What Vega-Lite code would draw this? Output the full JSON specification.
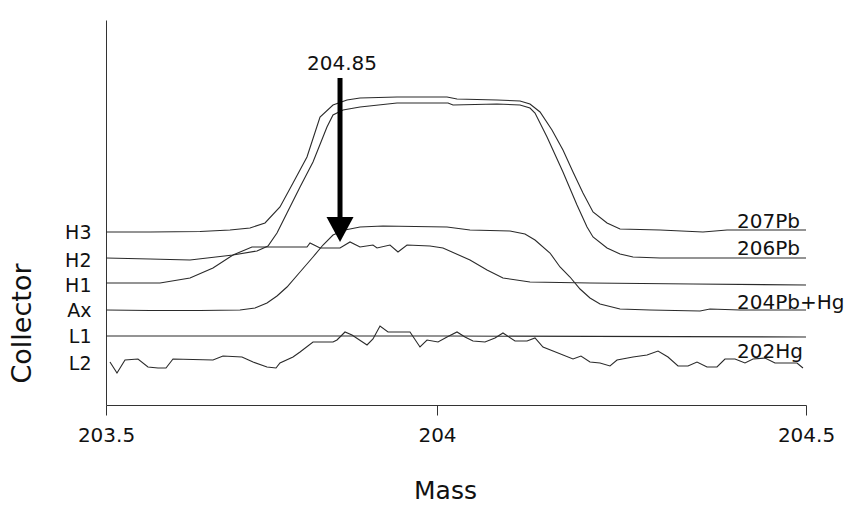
{
  "$schema": "https://vega.github.io/schema/vega-lite/v6.json",
  "autosize": {"type": "none"},
  "width": 700,
  "height": 385,
  "padding": {"left": 106, "top": 20, "right": 49, "bottom": 102},
  "background": "white",
  "config": {
    "view": {"stroke": null},
    "font": "DejaVu Sans",
    "axis": {"grid": false, "domainColor": "#333", "tickColor": "#333", "labelColor": "#111", "titleColor": "#111", "labelFont": "DejaVu Sans", "titleFont": "DejaVu Sans", "titleFontWeight": "normal"}
  },
  "datasets": {
    "traces": [
      {"series": "207Pb", "mass": 203.5, "signal": 173},
      {"series": "207Pb", "mass": 203.5665, "signal": 173},
      {"series": "207Pb", "mass": 203.642, "signal": 173.5},
      {"series": "207Pb", "mass": 203.6873, "signal": 175},
      {"series": "207Pb", "mass": 203.7175, "signal": 177},
      {"series": "207Pb", "mass": 203.7402, "signal": 182},
      {"series": "207Pb", "mass": 203.7628, "signal": 198},
      {"series": "207Pb", "mass": 203.7825, "signal": 222},
      {"series": "207Pb", "mass": 203.8036, "signal": 248},
      {"series": "207Pb", "mass": 203.8233, "signal": 288},
      {"series": "207Pb", "mass": 203.8429, "signal": 300},
      {"series": "207Pb", "mass": 203.864, "signal": 305},
      {"series": "207Pb", "mass": 203.8837, "signal": 307},
      {"series": "207Pb", "mass": 203.9396, "signal": 308},
      {"series": "207Pb", "mass": 204.0136, "signal": 308},
      {"series": "207Pb", "mass": 204.0271, "signal": 306},
      {"series": "207Pb", "mass": 204.0813, "signal": 305},
      {"series": "207Pb", "mass": 204.1125, "signal": 304},
      {"series": "207Pb", "mass": 204.126, "signal": 301},
      {"series": "207Pb", "mass": 204.1396, "signal": 293},
      {"series": "207Pb", "mass": 204.1558, "signal": 275},
      {"series": "207Pb", "mass": 204.1707, "signal": 255},
      {"series": "207Pb", "mass": 204.1843, "signal": 233},
      {"series": "207Pb", "mass": 204.1978, "signal": 212},
      {"series": "207Pb", "mass": 204.2114, "signal": 193},
      {"series": "207Pb", "mass": 204.2304, "signal": 182},
      {"series": "207Pb", "mass": 204.248, "signal": 176},
      {"series": "207Pb", "mass": 204.3022, "signal": 175},
      {"series": "207Pb", "mass": 204.3604, "signal": 173},
      {"series": "207Pb", "mass": 204.393, "signal": 175},
      {"series": "207Pb", "mass": 204.5, "signal": 175},

      {"series": "206Pb", "mass": 203.5, "signal": 147},
      {"series": "206Pb", "mass": 203.5665, "signal": 146},
      {"series": "206Pb", "mass": 203.6269, "signal": 145},
      {"series": "206Pb", "mass": 203.6918, "signal": 150},
      {"series": "206Pb", "mass": 203.7281, "signal": 154},
      {"series": "206Pb", "mass": 203.7447, "signal": 159},
      {"series": "206Pb", "mass": 203.7583, "signal": 172},
      {"series": "206Pb", "mass": 203.7734, "signal": 192},
      {"series": "206Pb", "mass": 203.7931, "signal": 218},
      {"series": "206Pb", "mass": 203.8127, "signal": 243},
      {"series": "206Pb", "mass": 203.8338, "signal": 278},
      {"series": "206Pb", "mass": 203.8429, "signal": 290},
      {"series": "206Pb", "mass": 203.858, "signal": 295},
      {"series": "206Pb", "mass": 203.8837, "signal": 298},
      {"series": "206Pb", "mass": 203.9396, "signal": 302},
      {"series": "206Pb", "mass": 204.0149, "signal": 302},
      {"series": "206Pb", "mass": 204.0217, "signal": 300},
      {"series": "206Pb", "mass": 204.0813, "signal": 301},
      {"series": "206Pb", "mass": 204.1125, "signal": 300},
      {"series": "206Pb", "mass": 204.126, "signal": 297},
      {"series": "206Pb", "mass": 204.1328, "signal": 292},
      {"series": "206Pb", "mass": 204.1491, "signal": 268},
      {"series": "206Pb", "mass": 204.1707, "signal": 233},
      {"series": "206Pb", "mass": 204.1897, "signal": 200},
      {"series": "206Pb", "mass": 204.2033, "signal": 178},
      {"series": "206Pb", "mass": 204.2114, "signal": 168},
      {"series": "206Pb", "mass": 204.2304, "signal": 157},
      {"series": "206Pb", "mass": 204.248, "signal": 151},
      {"series": "206Pb", "mass": 204.2656, "signal": 148},
      {"series": "206Pb", "mass": 204.3022, "signal": 147},
      {"series": "206Pb", "mass": 204.5, "signal": 147},

      {"series": "H1", "mass": 203.5, "signal": 122},
      {"series": "H1", "mass": 203.5816, "signal": 122},
      {"series": "H1", "mass": 203.6269, "signal": 127},
      {"series": "H1", "mass": 203.6616, "signal": 137},
      {"series": "H1", "mass": 203.6918, "signal": 150},
      {"series": "H1", "mass": 203.7205, "signal": 158},
      {"series": "H1", "mass": 203.8036, "signal": 158},
      {"series": "H1", "mass": 203.8082, "signal": 162},
      {"series": "H1", "mass": 203.8233, "signal": 157},
      {"series": "H1", "mass": 203.8535, "signal": 157},
      {"series": "H1", "mass": 203.8686, "signal": 163},
      {"series": "H1", "mass": 203.8837, "signal": 158},
      {"series": "H1", "mass": 203.9033, "signal": 160},
      {"series": "H1", "mass": 203.9094, "signal": 157},
      {"series": "H1", "mass": 203.929, "signal": 160},
      {"series": "H1", "mass": 203.9411, "signal": 153},
      {"series": "H1", "mass": 203.9547, "signal": 160},
      {"series": "H1", "mass": 203.9894, "signal": 159},
      {"series": "H1", "mass": 204.0081, "signal": 157},
      {"series": "H1", "mass": 204.0447, "signal": 145},
      {"series": "H1", "mass": 204.0678, "signal": 135},
      {"series": "H1", "mass": 204.0894, "signal": 127},
      {"series": "H1", "mass": 204.126, "signal": 123},
      {"series": "H1", "mass": 204.2073, "signal": 122},
      {"series": "H1", "mass": 204.3469, "signal": 121},
      {"series": "H1", "mass": 204.5, "signal": 120},

      {"series": "204Pb+Hg", "mass": 203.5, "signal": 95},
      {"series": "204Pb+Hg", "mass": 203.5665, "signal": 94.5},
      {"series": "204Pb+Hg", "mass": 203.642, "signal": 94.5},
      {"series": "204Pb+Hg", "mass": 203.7024, "signal": 95},
      {"series": "204Pb+Hg", "mass": 203.7251, "signal": 97},
      {"series": "204Pb+Hg", "mass": 203.7432, "signal": 102},
      {"series": "204Pb+Hg", "mass": 203.7583, "signal": 109},
      {"series": "204Pb+Hg", "mass": 203.7734, "signal": 118},
      {"series": "204Pb+Hg", "mass": 203.7931, "signal": 133},
      {"series": "204Pb+Hg", "mass": 203.8127, "signal": 148},
      {"series": "204Pb+Hg", "mass": 203.8278, "signal": 160},
      {"series": "204Pb+Hg", "mass": 203.8429, "signal": 170},
      {"series": "204Pb+Hg", "mass": 203.861, "signal": 175},
      {"series": "204Pb+Hg", "mass": 203.8837, "signal": 178},
      {"series": "204Pb+Hg", "mass": 203.9184, "signal": 179},
      {"series": "204Pb+Hg", "mass": 204.0136, "signal": 178},
      {"series": "204Pb+Hg", "mass": 204.0447, "signal": 175},
      {"series": "204Pb+Hg", "mass": 204.0989, "signal": 174},
      {"series": "204Pb+Hg", "mass": 204.1192, "signal": 171},
      {"series": "204Pb+Hg", "mass": 204.1328, "signal": 165},
      {"series": "204Pb+Hg", "mass": 204.1531, "signal": 152},
      {"series": "204Pb+Hg", "mass": 204.1667, "signal": 138},
      {"series": "204Pb+Hg", "mass": 204.1802, "signal": 128},
      {"series": "204Pb+Hg", "mass": 204.1938, "signal": 116},
      {"series": "204Pb+Hg", "mass": 204.2073, "signal": 107},
      {"series": "204Pb+Hg", "mass": 204.2209, "signal": 101},
      {"series": "204Pb+Hg", "mass": 204.248, "signal": 96},
      {"series": "204Pb+Hg", "mass": 204.2886, "signal": 95},
      {"series": "204Pb+Hg", "mass": 204.3564, "signal": 94},
      {"series": "204Pb+Hg", "mass": 204.3699, "signal": 96},
      {"series": "204Pb+Hg", "mass": 204.4106, "signal": 95},
      {"series": "204Pb+Hg", "mass": 204.5, "signal": 95},

      {"series": "L1", "mass": 203.5, "signal": 69},
      {"series": "L1", "mass": 204.0136, "signal": 69},
      {"series": "L1", "mass": 204.5, "signal": 68},

      {"series": "202Hg", "mass": 203.506, "signal": 43},
      {"series": "202Hg", "mass": 203.5166, "signal": 32},
      {"series": "202Hg", "mass": 203.5287, "signal": 45},
      {"series": "202Hg", "mass": 203.5483, "signal": 46},
      {"series": "202Hg", "mass": 203.5634, "signal": 38},
      {"series": "202Hg", "mass": 203.5785, "signal": 37},
      {"series": "202Hg", "mass": 203.5906, "signal": 37},
      {"series": "202Hg", "mass": 203.6012, "signal": 46},
      {"series": "202Hg", "mass": 203.6616, "signal": 45},
      {"series": "202Hg", "mass": 203.6767, "signal": 49},
      {"series": "202Hg", "mass": 203.7054, "signal": 48},
      {"series": "202Hg", "mass": 203.7221, "signal": 43},
      {"series": "202Hg", "mass": 203.7432, "signal": 38},
      {"series": "202Hg", "mass": 203.7568, "signal": 37},
      {"series": "202Hg", "mass": 203.7628, "signal": 42},
      {"series": "202Hg", "mass": 203.7825, "signal": 48},
      {"series": "202Hg", "mass": 203.7931, "signal": 53},
      {"series": "202Hg", "mass": 203.8127, "signal": 63},
      {"series": "202Hg", "mass": 203.8429, "signal": 63},
      {"series": "202Hg", "mass": 203.8489, "signal": 65},
      {"series": "202Hg", "mass": 203.861, "signal": 73},
      {"series": "202Hg", "mass": 203.8716, "signal": 70},
      {"series": "202Hg", "mass": 203.8943, "signal": 60},
      {"series": "202Hg", "mass": 203.9033, "signal": 66},
      {"series": "202Hg", "mass": 203.9139, "signal": 79},
      {"series": "202Hg", "mass": 203.926, "signal": 73},
      {"series": "202Hg", "mass": 203.9592, "signal": 73},
      {"series": "202Hg", "mass": 203.9743, "signal": 58},
      {"series": "202Hg", "mass": 203.9849, "signal": 65},
      {"series": "202Hg", "mass": 204.0014, "signal": 63},
      {"series": "202Hg", "mass": 204.0136, "signal": 68},
      {"series": "202Hg", "mass": 204.0271, "signal": 73},
      {"series": "202Hg", "mass": 204.0379, "signal": 68},
      {"series": "202Hg", "mass": 204.0488, "signal": 64},
      {"series": "202Hg", "mass": 204.065, "signal": 63},
      {"series": "202Hg", "mass": 204.0786, "signal": 67},
      {"series": "202Hg", "mass": 204.0894, "signal": 72},
      {"series": "202Hg", "mass": 204.1057, "signal": 64},
      {"series": "202Hg", "mass": 204.122, "signal": 64},
      {"series": "202Hg", "mass": 204.1328, "signal": 67},
      {"series": "202Hg", "mass": 204.1436, "signal": 58},
      {"series": "202Hg", "mass": 204.1572, "signal": 54},
      {"series": "202Hg", "mass": 204.1843, "signal": 46},
      {"series": "202Hg", "mass": 204.1951, "signal": 49},
      {"series": "202Hg", "mass": 204.2073, "signal": 43},
      {"series": "202Hg", "mass": 204.2209, "signal": 42},
      {"series": "202Hg", "mass": 204.2344, "signal": 39},
      {"series": "202Hg", "mass": 204.2439, "signal": 45},
      {"series": "202Hg", "mass": 204.2656, "signal": 48},
      {"series": "202Hg", "mass": 204.2846, "signal": 50},
      {"series": "202Hg", "mass": 204.2995, "signal": 54},
      {"series": "202Hg", "mass": 204.313, "signal": 48},
      {"series": "202Hg", "mass": 204.3266, "signal": 39},
      {"series": "202Hg", "mass": 204.3401, "signal": 39},
      {"series": "202Hg", "mass": 204.3523, "signal": 43},
      {"series": "202Hg", "mass": 204.3659, "signal": 38},
      {"series": "202Hg", "mass": 204.3794, "signal": 38},
      {"series": "202Hg", "mass": 204.3902, "signal": 46},
      {"series": "202Hg", "mass": 204.4038, "signal": 46},
      {"series": "202Hg", "mass": 204.4173, "signal": 42},
      {"series": "202Hg", "mass": 204.4282, "signal": 46},
      {"series": "202Hg", "mass": 204.4444, "signal": 47},
      {"series": "202Hg", "mass": 204.458, "signal": 42},
      {"series": "202Hg", "mass": 204.4878, "signal": 42},
      {"series": "202Hg", "mass": 204.4959, "signal": 37}
    ],
    "arrow": [
      {"label": "204.85", "mass": 203.8535, "top": 327, "shaftEnd": 187, "head": 175.5, "labelAt": 335}
    ],
    "labels": [
      {"label": "207Pb", "mass": 204.4065, "signal": 177},
      {"label": "206Pb", "mass": 204.4065, "signal": 150},
      {"label": "204Pb+Hg", "mass": 204.4065, "signal": 96},
      {"label": "202Hg", "mass": 204.4065, "signal": 47}
    ]
  },
  "layer": [
    {
      "data": {"name": "traces"},
      "mark": {"type": "line", "color": "#2a2a2a", "strokeWidth": 1.1},
      "encoding": {
        "x": {
          "field": "mass", "type": "quantitative",
          "scale": {"domain": [203.5, 204, 204.5], "range": [0, 331, 700], "nice": false, "zero": false},
          "axis": {
            "title": "Mass", "values": [203.5, 204, 204.5], "format": "~g", "labelFlush": false, "labelOverlap": false,
            "tickSize": 10, "labelPadding": 10, "labelFontSize": 20,
            "titleFontSize": 25, "titleX": 339, "titleY": 85, "titleBaseline": "middle", "titleAlign": "center", "titleAnchor": null
          }
        },
        "y": {
          "field": "signal", "type": "quantitative",
          "scale": {"domain": [0, 385], "nice": false, "zero": false},
          "axis": {
            "title": "Collector", "values": [173, 145, 120, 95, 69, 42],
            "labelExpr": "datum.value == 173 ? 'H3' : datum.value == 145 ? 'H2' : datum.value == 120 ? 'H1' : datum.value == 95 ? 'Ax' : datum.value == 69 ? 'L1' : 'L2'",
            "ticks": false, "tickSize": 0, "labelPadding": 15, "labelFontSize": 19, "labelOverlap": false,
            "titleFontSize": 27, "titleX": -84, "titleY": 303, "titleAngle": 270, "titleBaseline": "middle", "titleAlign": "center", "titleAnchor": null
          }
        },
        "detail": {"field": "series"},
        "order": {"field": "mass", "type": "quantitative"}
      }
    },
    {
      "data": {"name": "arrow"},
      "mark": {"type": "rule", "color": "black", "strokeWidth": 5},
      "encoding": {
        "x": {"field": "mass", "type": "quantitative"},
        "y": {"field": "top", "type": "quantitative"},
        "y2": {"field": "shaftEnd"}
      }
    },
    {
      "data": {"name": "arrow"},
      "mark": {"type": "point", "shape": "M-1,-0.93L1,-0.93L0,0.93Z", "size": 729, "filled": true, "color": "black", "opacity": 1, "strokeWidth": 0},
      "encoding": {
        "x": {"field": "mass", "type": "quantitative"},
        "y": {"field": "head", "type": "quantitative"}
      }
    },
    {
      "data": {"name": "arrow"},
      "mark": {"type": "text", "fontSize": 20, "font": "DejaVu Sans", "color": "#111", "align": "center", "baseline": "alphabetic", "dx": 2},
      "encoding": {
        "x": {"field": "mass", "type": "quantitative"},
        "y": {"field": "labelAt", "type": "quantitative"},
        "text": {"field": "label"}
      }
    },
    {
      "data": {"name": "labels"},
      "mark": {"type": "text", "fontSize": 20, "font": "DejaVu Sans", "color": "#111", "align": "left", "baseline": "alphabetic"},
      "encoding": {
        "x": {"field": "mass", "type": "quantitative"},
        "y": {"field": "signal", "type": "quantitative"},
        "text": {"field": "label"}
      }
    }
  ]
}
